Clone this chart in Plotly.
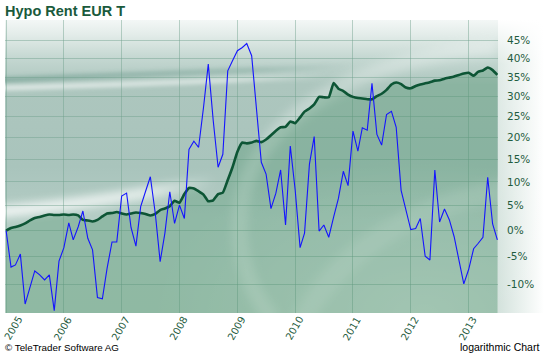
import base64
import math
import pandas as pd
import plotly.graph_objects as go

# ---------------- data ----------------
months = pd.date_range("2005-01-01", periods=103, freq="MS")

# cumulative performance of the fund (dark green line), in %
fund_pct = [0.0, 0.5, 0.7, 1.0, 1.4, 2.0, 2.5, 2.7, 3.0, 3.2,
            3.1, 3.1, 3.2, 3.1, 3.2, 3.0, 2.1, 2.0, 1.8, 2.1,
            2.8, 3.4, 3.5, 3.7, 3.4, 3.2, 3.4, 3.6, 3.5, 3.3,
            3.0, 3.3, 4.1, 4.4, 4.9, 6.0, 5.6, 7.4, 8.7, 8.6,
            8.0, 7.3, 5.9, 6.1, 7.4, 7.7, 10.4, 13.2, 16.7, 18.8,
            18.6, 18.8, 19.2, 18.9, 19.5, 20.5, 21.6, 22.4, 22.5, 23.8,
            23.4, 24.8, 26.2, 27.0, 28.0, 29.9, 29.8, 29.8, 33.5, 32.0,
            31.4, 30.5, 29.9, 29.6, 29.5, 29.3, 29.3, 30.1, 30.7, 31.7,
            33.1, 33.6, 33.2, 32.3, 32.1, 32.7, 33.1, 33.4, 33.7, 34.1,
            34.2, 34.6, 34.9, 35.2, 35.6, 36.0, 36.2, 35.4, 36.4, 36.8,
            37.6, 36.9, 35.6]

# rolling performance (blue line), in %
perf_pct = [0.0, -6.9, -6.5, -4.5, -13.4, -10.6, -7.6, -8.3, -9.2, -8.3,
            -14.5, -5.8, -3.3, 1.5, -1.8, 0.7, 3.9, -1.5, -3.7, -12.3,
            -12.5, -7.1, -2.2, -2.2, 7.0, 7.6, 0.6, -3.0, 4.8, 8.0,
            11.1, 3.5, -5.9, -0.5, 7.9, 1.4, 5.1, 2.4, 17.2, 19.1,
            17.7, 27.3, 38.5, 24.1, 13.2, 16.1, 36.7, 39.4, 42.2, 43.1,
            44.2, 40.8, 27.4, 14.3, 11.7, 4.4, 7.6, 12.6, 1.1, 18.0,
            8.2, -3.3, -0.5, 13.9, 20.2, -0.1, 1.1, -1.3, 2.7, 6.5,
            12.3, 9.2, 21.5, 16.8, 22.3, 21.7, 33.4, 20.7, 18.2, 25.5,
            26.3, 22.4, 8.2, 4.4, 0.2, 0.4, 2.4, -4.9, -5.6, 12.6,
            1.7, 4.3, 2.1, -1.2, -5.6, -9.9, -7.3, -3.5, -2.5, -1.3,
            11.0, 1.3, -1.8]

year_labels = ["2005", "2006", "2007", "2008", "2009", "2010", "2011", "2012", "2013"]
y_tick_pct = [-10, -5, 0, 5, 10, 15, 20, 25, 30, 35, 40, 45]
y_tick_text = [f"{v}%" for v in y_tick_pct]

# ---------------- styling ----------------
W, H = 544, 353
ML, MR, MT, MB = 5, 46, 20, 40
PW, PH = W - ML - MR, H - MT - MB
y_range = [math.log10(0.851), math.log10(1.51)]
x_range = ["2004-12-25", "2013-07-05"]

DARK = "#0d5535"
TXT = "#1f5c40"


def factor(p):
    return 1 + p / 100.0


bg_svg = f"""<svg xmlns='http://www.w3.org/2000/svg' width='{PW}' height='{PH}' viewBox='0 0 {PW} {PH}' preserveAspectRatio='none'>
<defs>
<linearGradient id='g' x1='0' y1='0' x2='0' y2='1'>
<stop offset='0' stop-color='#f3f7f6'/>
<stop offset='0.05' stop-color='#e3ece9'/>
<stop offset='0.13' stop-color='#c4d7d1'/>
<stop offset='0.22' stop-color='#adc6be'/>
<stop offset='0.5' stop-color='#a9c4bc'/>
<stop offset='0.68' stop-color='#b4cdc5'/>
<stop offset='1' stop-color='#b2cdc0'/>
</linearGradient>
<linearGradient id='fadeR' x1='0' y1='0' x2='1' y2='0'>
<stop offset='0' stop-color='#ffffff' stop-opacity='1'/>
<stop offset='0.45' stop-color='#ffffff' stop-opacity='0.8'/>
<stop offset='0.65' stop-color='#ffffff' stop-opacity='0'/>
</linearGradient>
<linearGradient id='fadeD' x1='0' y1='0' x2='1' y2='0'>
<stop offset='0' stop-color='#5b8f80' stop-opacity='1'/>
<stop offset='0.5' stop-color='#5b8f80' stop-opacity='0.6'/>
<stop offset='0.7' stop-color='#5b8f80' stop-opacity='0'/>
</linearGradient>
<radialGradient id='rg' cx='0.85' cy='1' r='0.55'>
<stop offset='0' stop-color='#ffffff' stop-opacity='0.35'/>
<stop offset='1' stop-color='#ffffff' stop-opacity='0'/>
</radialGradient>
<filter id='b1' x='-10%' y='-50%' width='120%' height='200%'><feGaussianBlur stdDeviation='2.2'/></filter>
<filter id='b2' x='-10%' y='-50%' width='120%' height='200%'><feGaussianBlur stdDeviation='4'/></filter>
<filter id='b3' x='-20%' y='-20%' width='140%' height='140%'><feGaussianBlur stdDeviation='5'/></filter>
</defs>
<rect x='0' y='0' width='{PW}' height='{PH}' fill='url(#g)'/>
<path d='M -10 60 C 100 56 200 52 300 48 S 420 40 500 38' stroke='url(#fadeD)' stroke-width='5' fill='none' opacity='0.5' filter='url(#b1)'/>
<path d='M -10 68 C 110 65 210 61 320 56 S 440 48 500 46' stroke='url(#fadeR)' stroke-width='5' fill='none' opacity='0.65' filter='url(#b1)'/>
<path d='M -10 192 C 80 185 180 168 330 138' stroke='url(#fadeR)' stroke-width='12' fill='none' opacity='0.8' filter='url(#b2)'/>
<path d='M 490 28 C 360 36 255 95 238 175 C 226 235 248 275 268 300' stroke='#ffffff' stroke-width='16' fill='none' opacity='0.28' filter='url(#b3)'/>
<path d='M 560 165 C 430 168 335 225 295 305' stroke='#ffffff' stroke-width='22' fill='none' opacity='0.22' filter='url(#b3)'/>
<rect x='0' y='0' width='{PW}' height='{PH}' fill='url(#rg)'/>
</svg>"""

side_svg = """<svg xmlns='http://www.w3.org/2000/svg' width='46' height='293' viewBox='0 0 46 293' preserveAspectRatio='none'>
<defs>
<linearGradient id='h' x1='0' y1='0' x2='1' y2='0'>
<stop offset='0' stop-color='#d3e2dc'/>
<stop offset='1' stop-color='#ffffff'/>
</linearGradient>
<linearGradient id='v' x1='0' y1='0' x2='0' y2='1'>
<stop offset='0' stop-color='#ffffff' stop-opacity='1'/>
<stop offset='0.15' stop-color='#ffffff' stop-opacity='0.3'/>
<stop offset='1' stop-color='#ffffff' stop-opacity='0'/>
</linearGradient>
</defs>
<rect width='46' height='293' fill='url(#h)'/>
<rect width='46' height='293' fill='url(#v)'/>
</svg>"""


def data_uri(svg):
    return "data:image/svg+xml;base64," + base64.b64encode(svg.encode()).decode()


fig = go.Figure()

base_level = 10 ** y_range[0]
fig.add_trace(go.Scatter(
    x=months, y=[base_level] * len(months), mode="lines",
    line=dict(width=0, color="rgba(0,0,0,0)"), hoverinfo="skip", showlegend=False))

fig.add_trace(go.Scatter(
    x=months, y=[factor(v) for v in fund_pct], mode="lines",
    fill="tonexty", fillcolor="rgba(62,140,96,0.30)",
    line=dict(color=DARK, width=2.6, shape="spline", smoothing=0.4),
    showlegend=False))

fig.add_trace(go.Scatter(
    x=months, y=[factor(v) for v in perf_pct], mode="lines",
    line=dict(color="#1414ff", width=1.1),
    showlegend=False))

year_ticks = [f"{y}-01-01" for y in year_labels]

annotations = [
    dict(text="<b>Hypo Rent EUR T</b>", xref="paper", yref="paper",
         x=(3 - ML) / PW, y=1 + (MT - 11) / PH, xanchor="left", yanchor="middle",
         showarrow=False, font=dict(family="Liberation Sans", size=14.5, color="#1a5a3c")),
    dict(text="© TeleTrader Software AG", xref="paper", yref="paper",
         x=(3 - ML) / PW, y=-(347 - (MT + PH)) / PH, xanchor="left", yanchor="middle",
         showarrow=False, font=dict(family="Liberation Sans", size=9.8, color="#000000")),
    dict(text="logarithmic Chart", xref="paper", yref="paper",
         x=(541 - ML) / PW, y=-(347 - (MT + PH)) / PH, xanchor="right", yanchor="middle",
         showarrow=False, font=dict(family="Liberation Sans", size=10.5, color="#000000")),
]
# rotated year labels below the plot (centred just under each year gridline)
for i, (lab, tv) in enumerate(zip(year_labels, year_ticks)):
    annotations.append(dict(
        text=lab, x=tv, xref="x", y=-(328.5 - (MT + PH)) / PH, yref="paper",
        xanchor="center", yanchor="middle", textangle=-60, showarrow=False,
        xshift=7 if i == 0 else -1,
        font=dict(family="DejaVu Sans", size=10, color=TXT)))

fig.update_layout(
    width=W, height=H,
    margin=dict(l=ML, r=MR, t=MT, b=MB, pad=0),
    paper_bgcolor="#ffffff",
    plot_bgcolor="rgba(0,0,0,0)",
    font=dict(family="DejaVu Sans", color=TXT),
    xaxis=dict(
        type="date", range=x_range,
        tickvals=year_ticks, showticklabels=False,
        showgrid=True, gridcolor="rgba(110,160,140,0.45)", gridwidth=1,
        zeroline=False, showline=False, ticks="", fixedrange=True,
    ),
    yaxis=dict(
        type="log", range=y_range, side="right",
        tickvals=[factor(v) for v in y_tick_pct], ticktext=y_tick_text,
        tickfont=dict(size=10.5, color=TXT, family="DejaVu Sans"),
        ticklabelstandoff=8,
        showgrid=True, gridcolor="rgba(110,160,140,0.45)", gridwidth=1,
        zeroline=False, showline=False, ticks="", fixedrange=True,
    ),
    images=[
        dict(source=data_uri(bg_svg), xref="paper", yref="paper", x=0, y=1,
             sizex=1, sizey=1, sizing="stretch", layer="below", xanchor="left", yanchor="top"),
        dict(source=data_uri(side_svg), xref="paper", yref="paper", x=1, y=1,
             sizex=MR / PW, sizey=1, sizing="stretch", layer="below", xanchor="left", yanchor="top"),
    ],
    annotations=annotations,
)

fig.write_html("out.html")
